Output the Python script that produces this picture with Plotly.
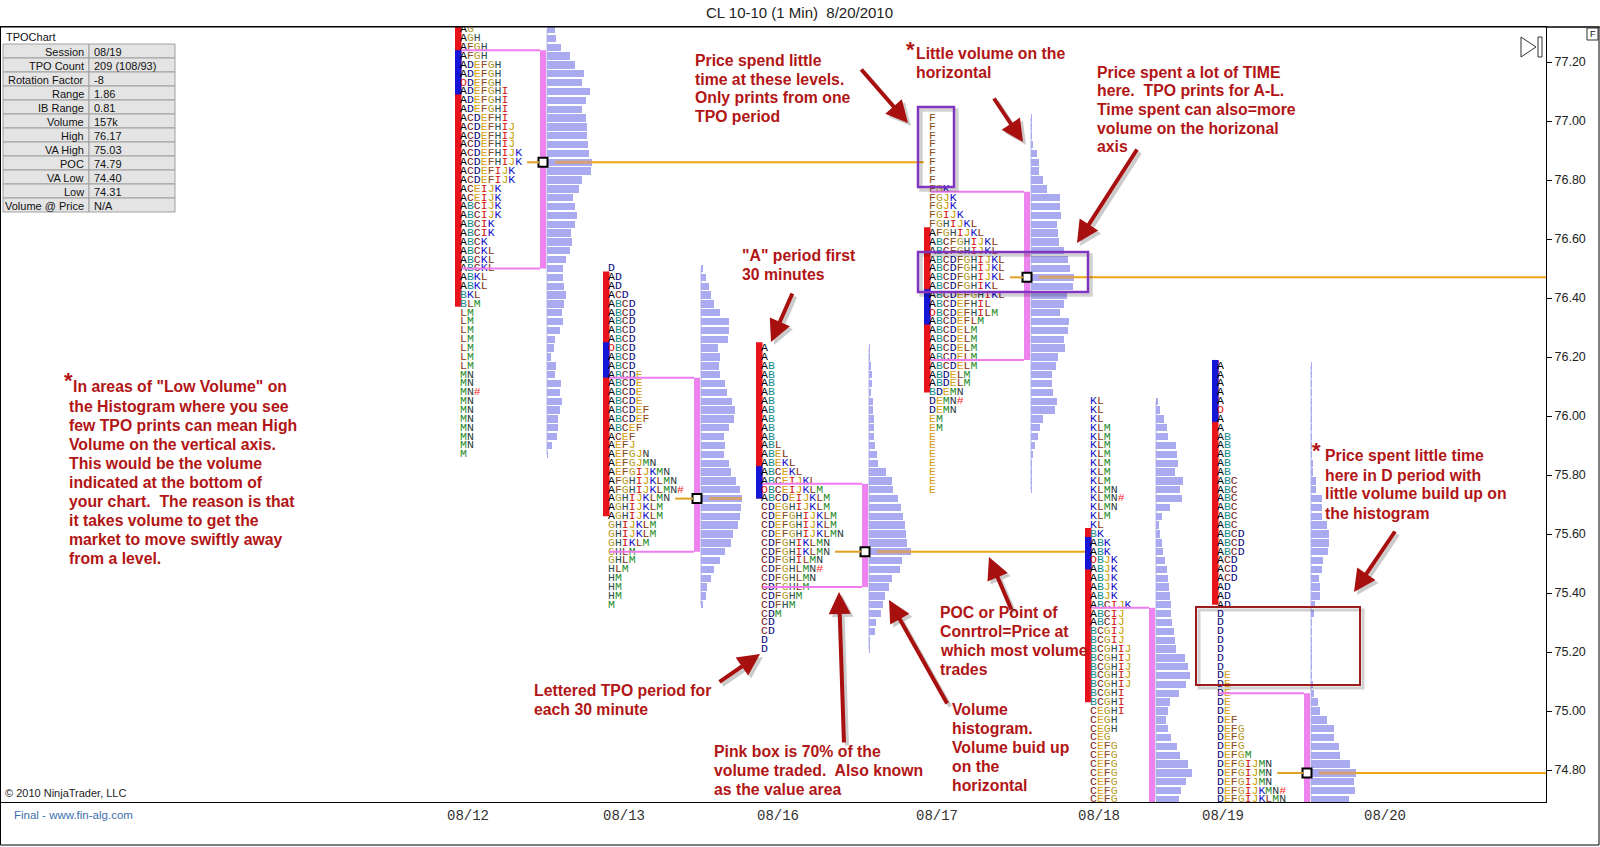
import plotly.graph_objects as go

# ---------------------------------------------------------------- data
sessions = ["08/12", "08/13", "08/16", "08/17", "08/18", "08/19"]
date_labels = ["08/12", "08/13", "08/16", "08/17", "08/18", "08/19", "08/20"]

tick_size = 0.03
tpo_high = [77.31, 76.50, 76.23, 77.01, 76.05, 76.17]

tpo_0812 = ["AG", "AGH", "AFGH", "AFGH", "ADEFGH", "ADEFGH", "ODEFGH", "ADEFGHI",
            "ADEFGHI", "ADEFGHI", "ACDEFHI", "ACDEFHIJ", "ACDEFHIJ", "ACDEFHIJ",
            "ACDEFHIJK", "ACDEFHIJK", "ACDEFIJK", "ACDEFIJK", "ACEIJK", "ACEIJK",
            "ABCIJK", "ABCIJK", "ABCIK", "ABCIK", "ABCK", "ABCKL", "ABCKL", "ABCKL",
            "ABKL", "ABKL", "BKL", "BLM", "LM", "LM", "LM", "LM", "LM", "LM", "LM",
            "MN", "MN", "MN#", "MN", "MN", "MN", "MN", "MN", "MN", "M"]
tpo_0813 = ["D", "AD", "AD", "ACD", "ABCD", "ABCD", "ABCD", "ABCD", "ABCD", "OBCD",
            "ABCD", "ABCD", "ABCDE", "ABCDE", "ABCDE", "ABCDE", "ABCDEF", "ABCDEF",
            "ABCEF", "ACEF", "AEFJ", "AEFGJN", "AEFGJMN", "AEFGIJKMN", "AFGHIJKLMN",
            "AFGHIJKLMN#", "AGHIJKLMN", "AGHIJKLM", "AGHIJKLM", "GHIJKLM", "GHIJKLM",
            "GHIKLM", "GHLM", "GHLM", "HLM", "HM", "HM", "HM", "M"]
tpo_0816 = ["A", "A", "AB", "AB", "AB", "AB", "AB", "AB", "AB", "AB", "AB", "ABL",
            "ABEL", "ABEKL", "ABCEKL", "ABCEIJKL", "OBCEIJKLM", "ABCDEIJKLM",
            "CDEGHIJKLM", "CDEFGHIJKLM", "CDEFGHIJKLM", "CDEFGHIJKLMN", "CDFGHIKLMN",
            "CDFGHIKLMN", "CDFGHILMN", "CDFGHLMN#", "CDFGHLMN", "CDFGHLM", "CDFGHM",
            "CDFHM", "CDM", "CD", "CD", "D", "D"]
tpo_0817 = ["F", "F", "F", "F", "F", "F", "F", "F", "FGK", "FGJK", "FGJK", "FGIJK",
            "FGHIJKL", "AFGHIJKL", "ABCFGHIJKL", "ABCFGHIJKL", "ABCDFGHIJKL",
            "ABCDFGHIJKL", "ABCDFGHIJKL", "ABCDFGHIKL", "ABCDEFGHIKL", "ABCDEFHIL",
            "OBCDEFHILM", "ABCDEFLM", "ABCDELM", "ABCDELM", "ABCDELM", "ABCDELM",
            "ABCDELM", "ABDELM", "ABDELM", "BDEMN", "DEMN#", "DEMN", "EM", "EM",
            "E", "E", "E", "E", "E", "E", "E"]
tpo_0818 = ["KL", "KL", "KL", "KLM", "KLM", "KLM", "KLM", "KLM", "KLM", "KLM", "KLMN",
            "KLMN#", "KLMN", "KLM", "KL", "BK", "ABK", "ABK", "OBJK", "ABJK", "ABJK",
            "ABJK", "ABJK", "ABCIJK", "ABCIJ", "ABCIJ", "BCGIJ", "BCGIJ", "BCGHIJ",
            "BCGHIJ", "BCGHIJ", "BCGHIJ", "BCGHIJ", "BCGHI", "BCGHI", "CEGHI", "CEGH",
            "CEGH", "CEG", "CEFG", "CEFG", "CEFG", "CEFG", "CEFG", "CEFG", "CEFG"]
tpo_0819 = ["A", "A", "A", "A", "A", "O", "A", "A", "AB", "AB", "AB", "AB", "AB",
            "ABC", "ABC", "ABC", "ABC", "ABC", "ABC", "ABCD", "ABCD", "ABCD", "ACD",
            "ACD", "ACD", "AD", "AD", "AD", "D", "D", "D", "D", "D", "D", "D", "DE",
            "DE", "DE", "DE", "DE", "DEF", "DEFG", "DEFG", "DEFG", "DEFGM", "DEFGIJMN",
            "DEFGIJMN", "DEFGIJMN", "DEFGIJKMN#", "DEFGIJKLMN"]

# volume at price (histogram length, same row order as the TPO letters)
vol_0812 = [8, 9, 14, 23, 28, 37, 35, 43, 39, 35, 39, 40, 40, 41, 42, 45, 44, 35, 32, 26,
            28, 30, 28, 24, 25, 23, 19, 16, 16, 17, 19, 17, 15, 16, 13, 8, 7, 4, 9, 8,
            14, 13, 15, 13, 11, 11, 10, 5, 1]
vol_0813 = [2, 5, 8, 10, 13, 19, 28, 28, 27, 17, 19, 18, 19, 24, 26, 31, 34, 33, 28, 23,
            24, 23, 28, 30, 35, 39, 41, 40, 39, 37, 32, 30, 24, 19, 13, 10, 6, 5, 2]
vol_0816 = [1, 1, 2, 3, 3, 2, 4, 4, 5, 5, 5, 6, 8, 9, 17, 23, 24, 29, 32, 34, 36, 37, 38,
            42, 33, 31, 23, 20, 16, 14, 12, 7, 6, 1, 1]
vol_0817 = [1, 1, 1, 2, 6, 8, 8, 12, 16, 29, 29, 30, 26, 27, 28, 33, 37, 39, 43, 42, 36,
            33, 29, 38, 37, 33, 34, 27, 25, 21, 21, 22, 26, 24, 12, 9, 7, 4, 2, 1, 0.5,
            0.5, 0.5]
vol_0818 = [2, 4, 8, 11, 12, 20, 21, 22, 19, 27, 24, 26, 14, 6, 3, 4, 6, 7, 9, 11, 12, 13,
            14, 15, 15, 16, 18, 19, 20, 29, 32, 34, 30, 23, 14, 12, 10, 12, 15, 21, 24,
            32, 36, 30, 25, 23]
vol_0819 = [0.5, 0.5, 0.5, 0.5, 0.5, 0.5, 0.5, 0.5, 0.5, 1, 1, 2, 2, 5, 5, 11, 11, 11, 16,
            18, 18, 17, 12, 11, 8, 9, 9, 4, 3, 0.5, 0.5, 0.5, 0.5, 0.5, 1, 1, 2, 3, 7, 9,
            16, 23, 23, 28, 29, 39, 45, 43, 44, 38]

poc = [76.86, 75.72, 75.54, 76.47, None, 74.79]
va_high = [77.24, 76.13, 75.77, 76.76, 75.35, 75.06]
va_low = [76.50, 75.54, 75.42, 76.19, 74.50, 74.40]
ib_high = [77.33, 76.49, 76.25, 76.64, 75.62, 76.19]
ib_low = [76.37, 75.66, 75.72, 76.08, 75.03, 75.36]
or_high = [77.24, 76.25, 75.83, 76.43, 75.59, 76.19]
or_low = [77.09, 76.13, 75.72, 76.31, 75.48, 75.98]

table_labels = ["Session", "TPO Count", "Rotation Factor", "Range", "IB Range", "Volume",
                "High", "VA High", "POC", "VA Low", "Low", "Volume @ Price"]
table_values = ["08/19", "209 (108/93)", "-8", "1.86", "0.81", "157k", "76.17", "75.03",
                "74.79", "74.40", "74.31", "N/A"]

tpo_rows = [tpo_0812, tpo_0813, tpo_0816, tpo_0817, tpo_0818, tpo_0819]
volumes = [vol_0812, vol_0813, vol_0816, vol_0817, vol_0818, vol_0819]

# ---------------------------------------------------------------- layout / styles
W, H = 1600, 847
PL, PR, PT, PB = 1, 1546, 27, 802          # plot area in pixels
Y_TOP = 77.20 + (62 - PT) / 295.0
Y_BOT = 77.20 - (PB - 62) / 295.0

sess_x = [455, 603, 756, 924, 1085, 1212]     # left edge of the IB bar
va_x = [546, 700, 868, 1030, 1155, 1310]      # right edge of pink value-area bar
poc_to = [924, None, 1085, PR, None, PR]
date_x = [468, 624, 778, 937, 1099, 1223, 1385]
CHAR_W = 6.9
VOL_PX = 1.0

letter_colors = {
    "A": "#000000", "B": "#138a8a", "C": "#7a1212", "D": "#0a0a80", "E": "#d9a016",
    "F": "#8b4a1a", "G": "#b59b2a", "H": "#2f4f4f", "I": "#d41010", "J": "#c9a000",
    "K": "#1010c8", "L": "#8b3010", "M": "#1f8b2a", "N": "#2a3a3a", "O": "#e01010",
    "#": "#ff2020",
}
RED_TXT = "#b21515"
RED_ARR = "#a80f0f"
FONT = "Liberation Sans, Arial, sans-serif"


def fx(px):
    return (px - PL) / (PR - PL)


def fy(py):
    return (PB - py) / (PB - PT)


def colorize(s):
    return "".join('<span style="color:%s">%s</span>' % (letter_colors[c], c) for c in s)


fig = go.Figure()
shapes = []
annos = []

for k in range(len(sessions)):
    rows = tpo_rows[k]
    prices = [tpo_high[k] - i * tick_size for i in range(len(rows))]
    x0 = sess_x[k]
    lx = x0 + 8

    # IB bar (red) and opening range (blue)
    shapes.append(dict(type="rect", xref="x", yref="y", x0=x0, x1=x0 + 6.5,
                       y0=ib_low[k], y1=ib_high[k], fillcolor="#e8121a",
                       line_width=0, layer="below"))
    shapes.append(dict(type="rect", xref="x", yref="y", x0=x0, x1=x0 + 6.5,
                       y0=or_low[k], y1=or_high[k], fillcolor="#1515d8",
                       line_width=0, layer="below"))

    # TPO letters
    fig.add_trace(go.Scatter(
        x=[lx - 3] * len(rows), y=prices, mode="text",
        text=[colorize(r) for r in rows], textposition="middle right",
        textfont=dict(family="Liberation Mono, monospace", size=11.5),
        hoverinfo="skip", showlegend=False, cliponaxis=True))

    # volume histogram
    base = va_x[k] + 1
    shapes.append(dict(type="line", xref="x", yref="y", x0=base, x1=base,
                       y0=prices[-1], y1=prices[0], line=dict(color="#b8b8e0", width=1),
                       layer="below"))
    fig.add_trace(go.Bar(
        orientation="h", y=prices, x=[v * VOL_PX for v in volumes[k]], base=base,
        width=0.025, marker=dict(color="#aaaaf0", line_width=0),
        hoverinfo="skip", showlegend=False))

    # value area box
    for yv in (va_high[k], va_low[k]):
        shapes.append(dict(type="line", xref="x", yref="y", x0=x0 + 6.5, x1=va_x[k] - 6,
                           y0=yv, y1=yv, line=dict(color="#f07cf0", width=2)))
    shapes.append(dict(type="rect", xref="x", yref="y", x0=va_x[k] - 6, x1=va_x[k],
                       y0=va_low[k], y1=va_high[k], fillcolor="#ee82ee", line_width=0,
                       layer="below"))

    # point of control
    if poc[k] is not None:
        i_poc = min(range(len(rows)), key=lambda i: abs(prices[i] - poc[k]))
        lend = lx + len(rows[i_poc]) * CHAR_W + 2
        shapes.append(dict(type="line", xref="x", yref="y", x0=lend, x1=va_x[k] - 7,
                           y0=poc[k], y1=poc[k], line=dict(color="#e0a020", width=2)))
        hend = base + volumes[k][i_poc] * VOL_PX
        shapes.append(dict(type="line", xref="x", yref="y", x0=base + 8, x1=hend,
                           y0=poc[k], y1=poc[k], line=dict(color="#d4a070", width=3)))
        if poc_to[k] is not None:
            shapes.append(dict(type="line", xref="x", yref="y", x0=hend, x1=poc_to[k],
                               y0=poc[k], y1=poc[k], line=dict(color="#f0a614", width=2)))
        fig.add_trace(go.Scatter(
            x=[va_x[k] - 3], y=[poc[k]], mode="markers",
            marker=dict(symbol="square", size=9, color="white",
                        line=dict(color="black", width=2)),
            hoverinfo="skip", showlegend=False))


# ---------------------------------------------------------------- decorations
def pbox(x0, y0, x1, y1, color, width=1, fill=None, shadow=False):
    if shadow:
        shapes.append(dict(type="rect", xref="paper", yref="paper",
                           x0=fx(x0 + 3), x1=fx(x1 + 3), y0=fy(y0 + 3), y1=fy(y1 + 3),
                           line=dict(color="rgba(0,0,0,0.18)", width=width + 1)))
    shapes.append(dict(type="rect", xref="paper", yref="paper",
                       x0=fx(x0), x1=fx(x1), y0=fy(y0), y1=fy(y1),
                       line=dict(color=color, width=width),
                       fillcolor=fill if fill else "rgba(0,0,0,0)"))


def text(x, y, s, size=11, color="#111", anchor="left", family=FONT, weight="normal"):
    annos.append(dict(xref="paper", yref="paper", x=fx(x), y=fy(y), text=s,
                      showarrow=False, xanchor=anchor, yanchor="middle",
                      font=dict(family=family, size=size, color=color, weight=weight)))


def note(x, ys, lines, size=15.8):
    for yy, ln in zip(ys, lines):
        text(x, yy, ln, size=size, color=RED_TXT, weight="bold")


def star(x, y):
    text(x, y, "*", size=22, color=RED_TXT, weight="bold")


def arrow(tail, head):
    for dx, col in ((3, "rgba(0,0,0,0.2)"), (0, RED_ARR)):
        annos.append(dict(xref="paper", yref="paper", x=fx(head[0] + dx), y=fy(head[1] + dx),
                          ax=tail[0] - head[0], ay=tail[1] - head[1],
                          axref="pixel", ayref="pixel", text="", showarrow=True,
                          arrowhead=2, arrowsize=1.1, arrowwidth=4, arrowcolor=col,
                          standoff=0))


# outer frame and top line
pbox(0.5, PT, 1599, 845, "#000", 1)
shapes.append(dict(type="line", xref="paper", yref="paper", x0=fx(PR), x1=fx(1600),
                   y0=fy(PT), y1=fy(PT), line=dict(color="#000", width=1)))

# info table
text(4, 37, "TPOChart", size=11)
for i, (lab, val) in enumerate(zip(table_labels, table_values)):
    y0 = 44 + 14 * i
    pbox(3, y0, 89, y0 + 14, "#a0a0a0", 1, fill="#e4e4e4")
    pbox(89, y0, 175, y0 + 14, "#a0a0a0", 1, fill="#e4e4e4")
    text(86, y0 + 7.5, lab, size=11, anchor="right")
    text(92, y0 + 7.5, val, size=11)

# highlight boxes
pbox(918, 107, 954, 187, "#8035c0", 2.5, shadow=True)
pbox(918, 252, 1088, 292, "#8035c0", 2.5, shadow=True)
pbox(1196, 607, 1360, 685, "#9b1c1c", 2, shadow=True)

# play icon and "F" button
shapes.append(dict(type="path", xref="paper", yref="paper",
                   path="M %f %f L %f %f L %f %f Z" % (fx(1521), fy(37), fx(1536), fy(47),
                                                       fx(1521), fy(57)),
                   line=dict(color="#333", width=1)))
pbox(1538, 37, 1542, 57, "#333", 1)
pbox(1587, 28, 1598, 40, "#333", 1)
text(1592.5, 34, "F", size=9, anchor="center")

# title / credits
text(800, 13, "CL 10-10 (1 Min)  8/20/2010", size=15, color="#222", anchor="center")
text(3, 793, "© 2010 NinjaTrader, LLC", size=11, color="#222")
text(12, 815, "Final - www.fin-alg.com", size=11.5, color="#3d6fb0")

# commentary
star(62, 380)
note(71, [386], ['In areas of "Low Volume" on'])
note(67, [406.7, 425.7, 444.5, 463.5, 482.5, 501.5, 520.5, 539.5, 558.5],
     ["the Histogram where you see", "few TPO prints can mean High",
      "Volume on the vertical axis.", "This would be the volume",
      "indicated at the bottom of", "your chart.  The reason is that",
      "it takes volume to get the", "market to move swiftly away", "from a level."])
note(693, [60, 79, 98, 117], ["Price spend little", "time at these levels.",
                              "Only prints from one", "TPO period"])
star(904, 50)
note(914, [54, 73], ["Little volume on the", "horizontal"])
note(1095, [72, 90.5, 109, 128, 147], ["Price spent a lot of TIME",
                                       "here.  TPO prints for A-L.",
                                       "Time spent can also=more",
                                       "volume on the horizonal", "axis"])
note(740, [255, 274], ['"A" period first', "30 minutes"])
note(532, [690, 709], ["Lettered TPO period for", "each 30 minute"])
note(712, [751, 770, 789], ["Pink box is 70% of the", "volume traded.  Also known",
                            "as the value area"])
note(938, [612, 631, 650, 669], ["POC or Point of", "Conrtrol=Price at",
                                 "which most volume", "trades"])
note(950, [709, 728, 747, 766, 785], ["Volume", "histogram.", "Volume buid up",
                                      "on the", "horizontal"])
star(1310, 450)
note(1323, [456, 475, 494, 513], ["Price spent little time", "here in D period with",
                                  "little volume build up on", "the histogram"])

arrow((860, 68), (908, 123))
arrow((993, 97), (1023, 142))
arrow((1138, 148), (1077, 243))
arrow((793, 292), (771, 342))
arrow((718, 683), (760, 654))
arrow((844, 744), (839, 592))
arrow((948, 705), (889, 600))
arrow((1012, 611), (989, 557))
arrow((1396, 530), (1354, 592))

fig.update_layout(
    width=W, height=H,
    margin=dict(l=PL, r=W - PR, t=PT, b=H - PB, pad=0),
    paper_bgcolor="white", plot_bgcolor="white",
    barmode="overlay", bargap=0, showlegend=False,
    shapes=shapes, annotations=annos,
    xaxis=dict(range=[PL, PR], showgrid=False, zeroline=False, showline=True,
               linecolor="#000", linewidth=1, mirror=True, tickmode="array",
               tickvals=date_x, ticktext=date_labels, ticks="",
               tickfont=dict(family="Liberation Mono, monospace", size=14, color="#333"),
               fixedrange=True),
    yaxis=dict(range=[Y_BOT, Y_TOP], side="right", showgrid=False, zeroline=False,
               showline=True, linecolor="#000", linewidth=1, mirror=True,
               ticks="outside", ticklen=5, tickcolor="#000", tick0=74.8, dtick=0.2,
               tickformat=".2f", tickfont=dict(family=FONT, size=12.5, color="#222"),
               fixedrange=True),
)

fig.write_html("out.html", config={"displayModeBar": False},
               post_script="document.body.style.margin='0px';"
                           "document.body.style.overflow='hidden';")
